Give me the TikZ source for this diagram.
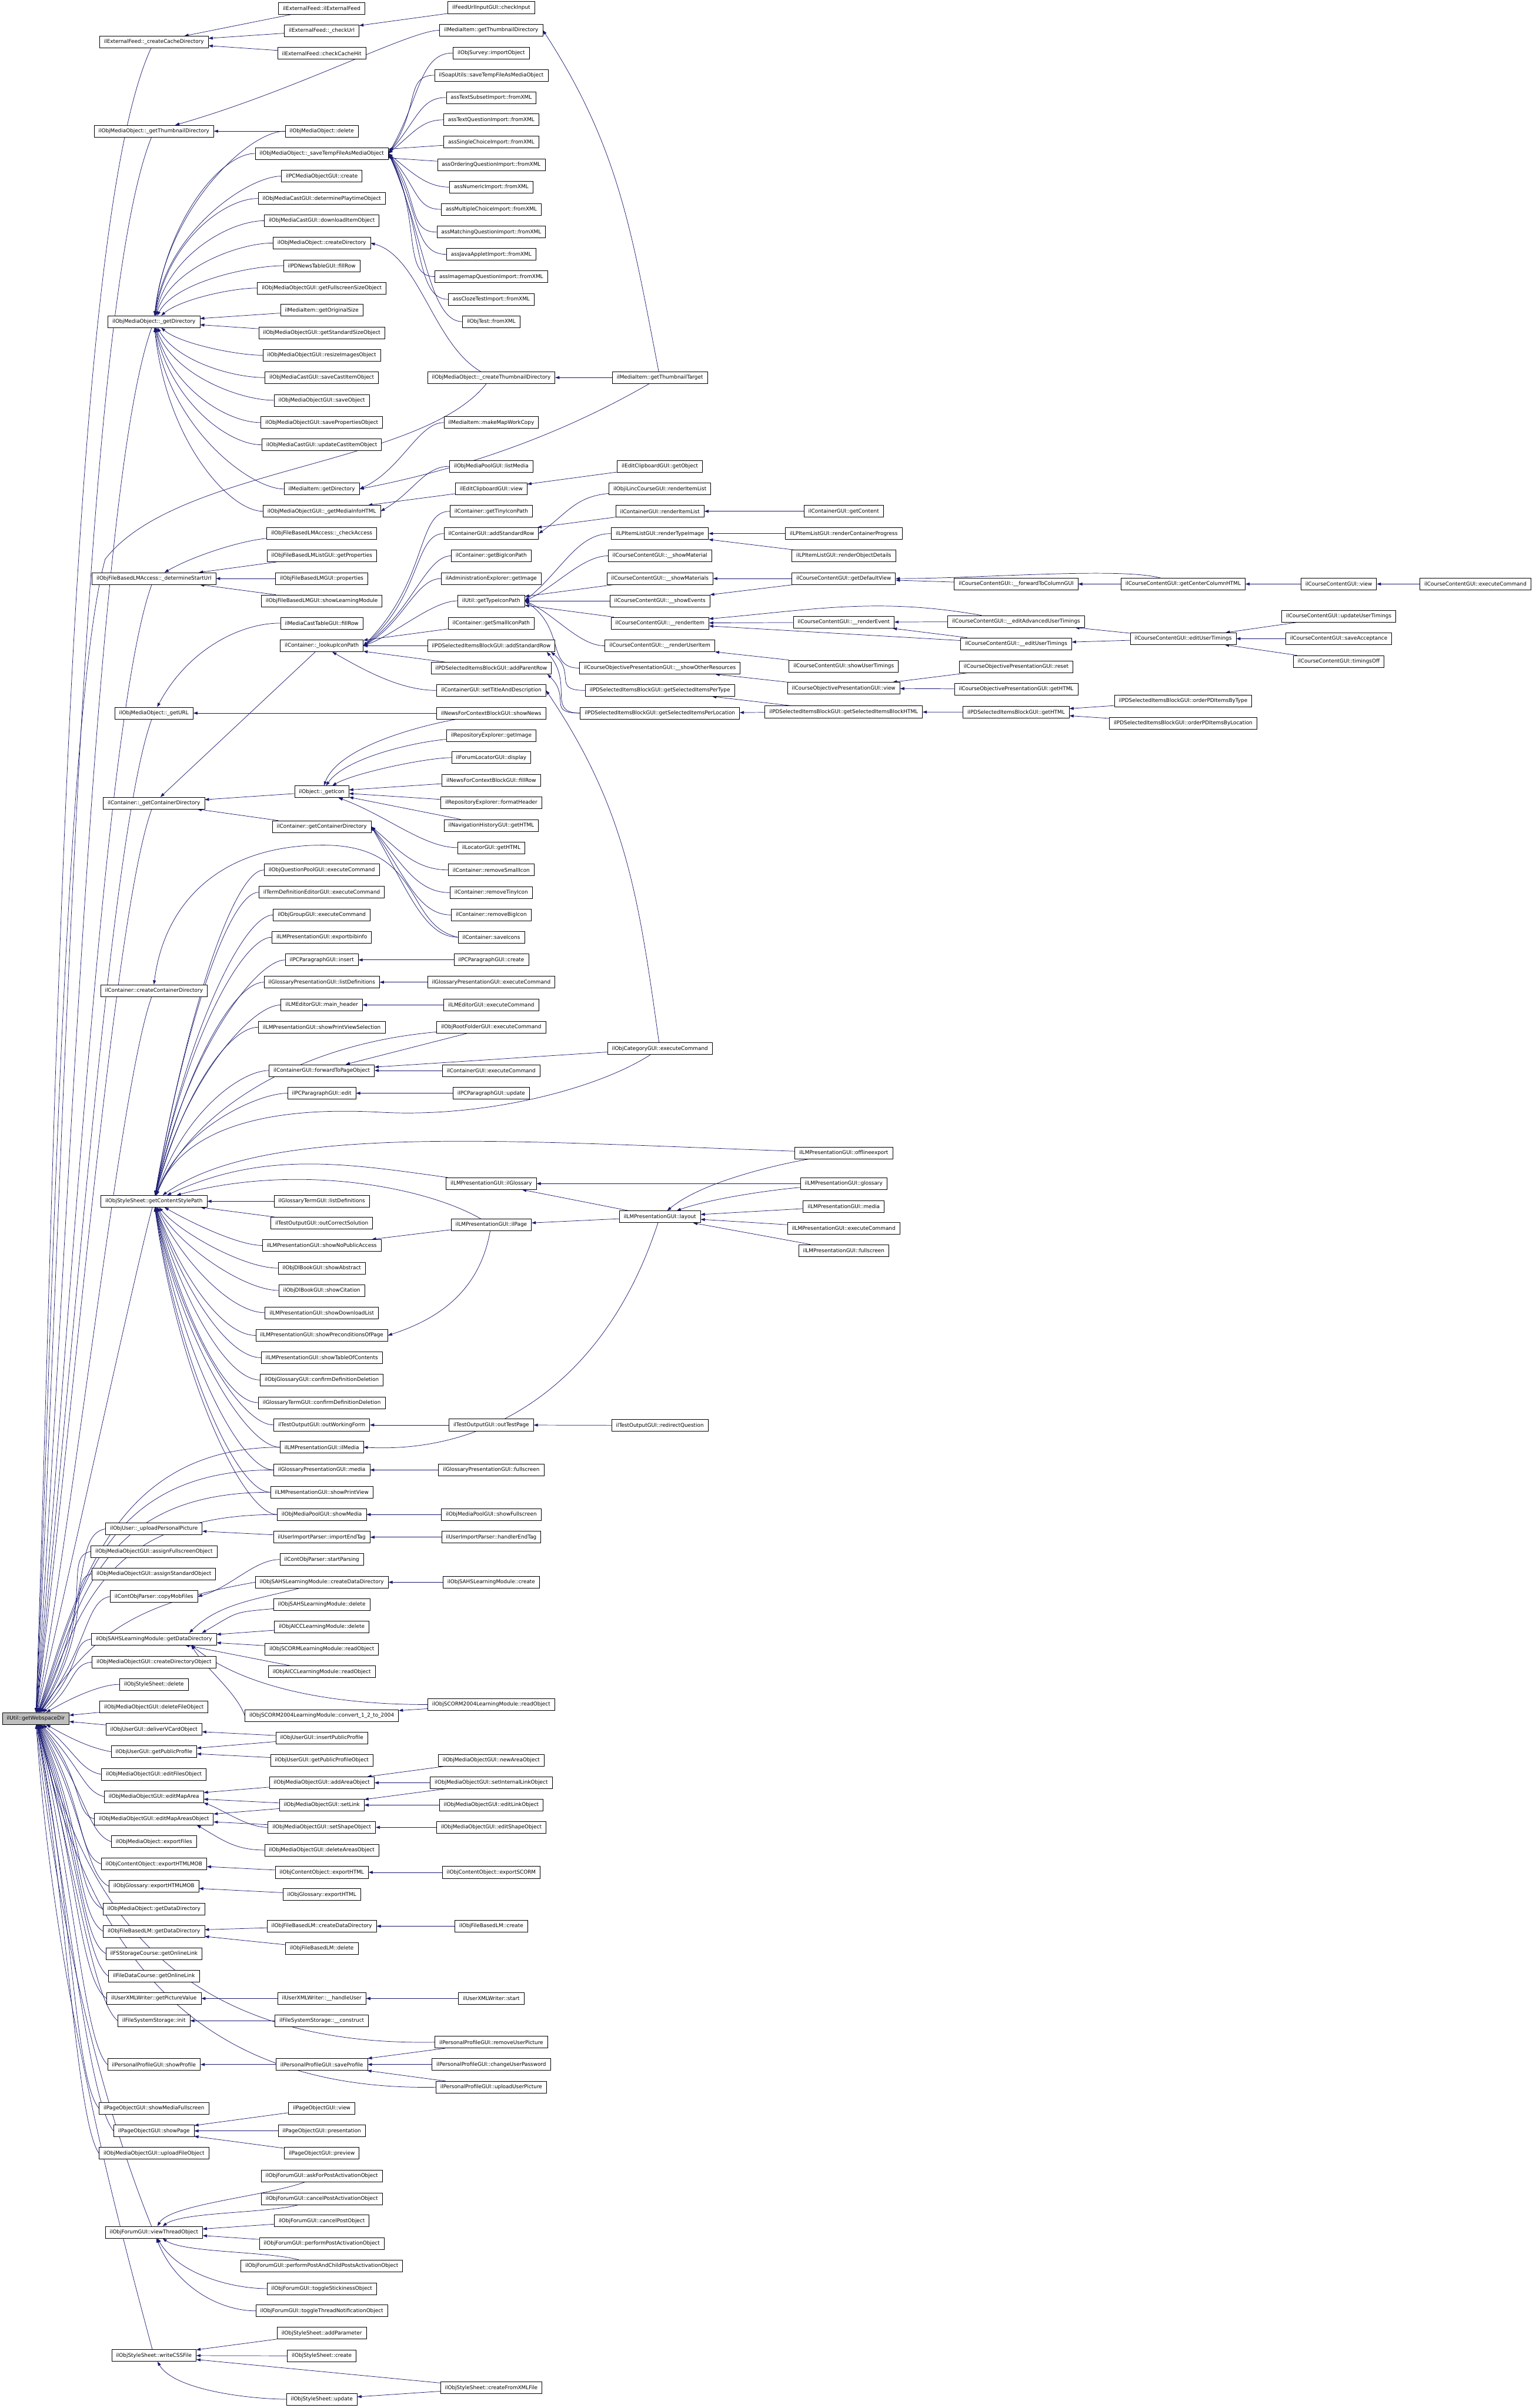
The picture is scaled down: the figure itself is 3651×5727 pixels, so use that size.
\documentclass[tikz,border=0pt]{standalone}
\usepackage{fontspec}
\newfontfamily\doxfont{DejaVu Sans}
\usetikzlibrary{arrows.meta,backgrounds}
\definecolor{edgeblue}{HTML}{191970}
\definecolor{rootgray}{HTML}{BFBFBF}
% one unit of the picture is one pixel of the original graph, drawn at 0.2pt
\tikzset{
    fn/.style={rectangle,draw=black,fill=white,line width=0.2pt,inner xsep=2.1pt,inner ysep=0pt,minimum height=5.6pt,font=\doxfont\fontsize{2.48}{3}\selectfont},
    root/.style={fn,fill=rootgray},
    call/.style={draw=edgeblue,line width=0.2pt,-{Triangle[length=2pt,width=1.4pt]}},
    spline/.code n args={4}{\pgfmathsetmacro\splo{#3*0.2}\pgfmathsetmacro\spli{#4*0.2}%
        \tikzset{out=#1,in=#2,out distance=\splo pt,in distance=\spli pt}}
}

\begin{document}
\begin{tikzpicture}[x=0.2pt,y=-0.2pt]
    \useasboundingbox (0,0) rectangle (3651,5727);
    % Nodes (rank 0)
    \node[root] (wsd) at (85,4087) {ilUtil::getWebspaceDir};
    % Nodes (rank 1)
    \node[fn] (ccd) at (366,100) {ilExternalFeed::\_createCacheDirectory};
    \node[fn] (gtd) at (366,312) {ilObjMediaObject::\_getThumbnailDirectory};
    \node[fn] (gdir) at (366,765) {ilObjMediaObject::\_getDirectory};
    \node[fn] (dsu) at (366,1376) {ilObjFileBasedLMAccess::\_determineStartUrl};
    \node[fn] (gurl) at (366,1696) {ilObjMediaObject::\_getURL};
    \node[fn] (gcd) at (366,1910) {ilContainer::\_getContainerDirectory};
    \node[fn] (ccdir) at (366,2356) {ilContainer::createContainerDirectory};
    \node[fn] (csp) at (366,2857) {ilObjStyleSheet::getContentStylePath};
    \node[fn] (upp) at (366,3636) {ilObjUser::\_uploadPersonalPicture};
    \node[fn] (afo) at (366,3690) {ilObjMediaObjectGUI::assignFullscreenObject};
    \node[fn] (aso) at (366,3743) {ilObjMediaObjectGUI::assignStandardObject};
    \node[fn] (cmf) at (366,3797) {ilContObjParser::copyMobFiles};
    \node[fn] (sahsdd) at (366,3898) {ilObjSAHSLearningModule::getDataDirectory};
    \node[fn] (cdo) at (366,3953) {ilObjMediaObjectGUI::createDirectoryObject};
    \node[fn] (ssdel) at (366,4006) {ilObjStyleSheet::delete};
    \node[fn] (dfo) at (366,4060) {ilObjMediaObjectGUI::deleteFileObject};
    \node[fn] (dvc) at (366,4113) {ilObjUserGUI::deliverVCardObject};
    \node[fn] (gpp) at (366,4166) {ilObjUserGUI::getPublicProfile};
    \node[fn] (efo) at (366,4220) {ilObjMediaObjectGUI::editFilesObject};
    \node[fn] (ema) at (366,4273) {ilObjMediaObjectGUI::editMapArea};
    \node[fn] (emao) at (366,4326) {ilObjMediaObjectGUI::editMapAreasObject};
    \node[fn] (exf) at (366,4380) {ilObjMediaObject::exportFiles};
    \node[fn] (cohm) at (366,4433) {ilObjContentObject::exportHTMLMOB};
    \node[fn] (glhm) at (366,4486) {ilObjGlossary::exportHTMLMOB};
    \node[fn] (modd) at (366,4540) {ilObjMediaObject::getDataDirectory};
    \node[fn] (flmdd) at (366,4593) {ilObjFileBasedLM::getDataDirectory};
    \node[fn] (fsol) at (366,4646) {ilFSStorageCourse::getOnlineLink};
    \node[fn] (fdol) at (366,4700) {ilFileDataCourse::getOnlineLink};
    \node[fn] (gpv) at (366,4753) {ilUserXMLWriter::getPictureValue};
    \node[fn] (fsi) at (366,4806) {ilFileSystemStorage::init};
    \node[fn] (shp) at (366,4910) {ilPersonalProfileGUI::showProfile};
    \node[fn] (smf) at (366,5014) {ilPageObjectGUI::showMediaFullscreen};
    \node[fn] (shpg) at (366,5068) {ilPageObjectGUI::showPage};
    \node[fn] (ufo) at (366,5121) {ilObjMediaObjectGUI::uploadFileObject};
    \node[fn] (vto) at (366,5309) {ilObjForumGUI::viewThreadObject};
    \node[fn] (wcss) at (366,5602) {ilObjStyleSheet::writeCSSFile};
    % Nodes (rank 2)
    \node[fn] (efi) at (765,20) {ilExternalFeed::ilExternalFeed};
    \node[fn] (ecu) at (765,73) {ilExternalFeed::\_checkUrl};
    \node[fn] (ech) at (765,127) {ilExternalFeed::checkCacheHit};
    \node[fn] (model) at (765,312) {ilObjMediaObject::delete};
    \node[fn] (stf) at (765,365) {ilObjMediaObject::\_saveTempFileAsMediaObject};
    \node[fn] (pcmc) at (765,419) {ilPCMediaObjectGUI::create};
    \node[fn] (dpo) at (765,472) {ilObjMediaCastGUI::determinePlaytimeObject};
    \node[fn] (dio) at (765,525) {ilObjMediaCastGUI::downloadItemObject};
    \node[fn] (mocd) at (765,578) {ilObjMediaObject::createDirectory};
    \node[fn] (pdnf) at (765,632) {ilPDNewsTableGUI::fillRow};
    \node[fn] (gfso) at (765,685) {ilObjMediaObjectGUI::getFullscreenSizeObject};
    \node[fn] (gos) at (765,738) {ilMediaItem::getOriginalSize};
    \node[fn] (gsso) at (765,792) {ilObjMediaObjectGUI::getStandardSizeObject};
    \node[fn] (rio) at (765,845) {ilObjMediaObjectGUI::resizeImagesObject};
    \node[fn] (scio) at (765,898) {ilObjMediaCastGUI::saveCastItemObject};
    \node[fn] (mosave) at (765,952) {ilObjMediaObjectGUI::saveObject};
    \node[fn] (spo) at (765,1005) {ilObjMediaObjectGUI::savePropertiesObject};
    \node[fn] (ucio) at (765,1058) {ilObjMediaCastGUI::updateCastItemObject};
    \node[fn] (migd) at (765,1163) {ilMediaItem::getDirectory};
    \node[fn] (gmih) at (765,1216) {ilObjMediaObjectGUI::\_getMediaInfoHTML};
    \node[fn] (chka) at (765,1269) {ilObjFileBasedLMAccess::\_checkAccess};
    \node[fn] (flgp) at (765,1322) {ilObjFileBasedLMListGUI::getProperties};
    \node[fn] (flprop) at (765,1376) {ilObjFileBasedLMGUI::properties};
    \node[fn] (fslm) at (765,1429) {ilObjFileBasedLMGUI::showLearningModule};
    \node[fn] (mctf) at (765,1482) {ilMediaCastTableGUI::fillRow};
    \node[fn] (lip) at (765,1536) {ilContainer::\_lookupIconPath};
    \node[fn] (geticon) at (765,1883) {ilObject::\_getIcon};
    \node[fn] (cgcd) at (765,1966) {ilContainer::getContainerDirectory};
    \node[fn] (qpec) at (765,2069) {ilObjQuestionPoolGUI::executeCommand};
    \node[fn] (tdec) at (765,2122) {ilTermDefinitionEditorGUI::executeCommand};
    \node[fn] (grec) at (765,2176) {ilObjGroupGUI::executeCommand};
    \node[fn] (ebi) at (765,2229) {ilLMPresentationGUI::exportbibinfo};
    \node[fn] (ppins) at (765,2283) {ilPCParagraphGUI::insert};
    \node[fn] (gpld) at (765,2336) {ilGlossaryPresentationGUI::listDefinitions};
    \node[fn] (lemh) at (765,2390) {ilLMEditorGUI::main\_header};
    \node[fn] (spvs) at (765,2443) {ilLMPresentationGUI::showPrintViewSelection};
    \node[fn] (ftpo) at (765,2546) {ilContainerGUI::forwardToPageObject};
    \node[fn] (ppedit) at (765,2600) {ilPCParagraphGUI::edit};
    \node[fn] (gtld) at (765,2857) {ilGlossaryTermGUI::listDefinitions};
    \node[fn] (occs) at (765,2909) {ilTestOutputGUI::outCorrectSolution};
    \node[fn] (snpa) at (765,2962) {ilLMPresentationGUI::showNoPublicAccess};
    \node[fn] (sabs) at (765,3016) {ilObjDlBookGUI::showAbstract};
    \node[fn] (scit) at (765,3069) {ilObjDlBookGUI::showCitation};
    \node[fn] (sdl) at (765,3122) {ilLMPresentationGUI::showDownloadList};
    \node[fn] (spop) at (765,3176) {ilLMPresentationGUI::showPreconditionsOfPage};
    \node[fn] (stoc) at (765,3229) {ilLMPresentationGUI::showTableOfContents};
    \node[fn] (ogcd) at (765,3282) {ilObjGlossaryGUI::confirmDefinitionDeletion};
    \node[fn] (gtcd) at (765,3336) {ilGlossaryTermGUI::confirmDefinitionDeletion};
    \node[fn] (owf) at (765,3389) {ilTestOutputGUI::outWorkingForm};
    \node[fn] (ilmedia) at (765,3442) {ilLMPresentationGUI::ilMedia};
    \node[fn] (gpmedia) at (765,3496) {ilGlossaryPresentationGUI::media};
    \node[fn] (spv) at (765,3549) {ilLMPresentationGUI::showPrintView};
    \node[fn] (mpsm) at (765,3602) {ilObjMediaPoolGUI::showMedia};
    \node[fn] (iet) at (765,3656) {ilUserImportParser::importEndTag};
    \node[fn] (cosp) at (765,3709) {ilContObjParser::startParsing};
    \node[fn] (sahscdd) at (765,3763) {ilObjSAHSLearningModule::createDataDirectory};
    \node[fn] (sahsdel) at (765,3816) {ilObjSAHSLearningModule::delete};
    \node[fn] (aiccdel) at (765,3869) {ilObjAICCLearningModule::delete};
    \node[fn] (scormro) at (765,3922) {ilObjSCORMLearningModule::readObject};
    \node[fn] (aiccro) at (765,3976) {ilObjAICCLearningModule::readObject};
    \node[fn] (conv) at (765,4080) {ilObjSCORM2004LearningModule::convert\_1\_2\_to\_2004};
    \node[fn] (ipp) at (765,4133) {ilObjUserGUI::insertPublicProfile};
    \node[fn] (gppo) at (765,4186) {ilObjUserGUI::getPublicProfileObject};
    \node[fn] (aao) at (765,4240) {ilObjMediaObjectGUI::addAreaObject};
    \node[fn] (slink) at (765,4293) {ilObjMediaObjectGUI::setLink};
    \node[fn] (sso) at (765,4346) {ilObjMediaObjectGUI::setShapeObject};
    \node[fn] (dao) at (765,4400) {ilObjMediaObjectGUI::deleteAreasObject};
    \node[fn] (coeh) at (765,4453) {ilObjContentObject::exportHTML};
    \node[fn] (gleh) at (765,4506) {ilObjGlossary::exportHTML};
    \node[fn] (flmcdd) at (765,4581) {ilObjFileBasedLM::createDataDirectory};
    \node[fn] (flmdel) at (765,4634) {ilObjFileBasedLM::delete};
    \node[fn] (xhu) at (765,4753) {ilUserXMLWriter::\_\_handleUser};
    \node[fn] (fscon) at (765,4806) {ilFileSystemStorage::\_\_construct};
    \node[fn] (svp) at (765,4910) {ilPersonalProfileGUI::saveProfile};
    \node[fn] (pov) at (765,5014) {ilPageObjectGUI::view};
    \node[fn] (popr) at (765,5068) {ilPageObjectGUI::presentation};
    \node[fn] (popv) at (765,5121) {ilPageObjectGUI::preview};
    \node[fn] (fapa) at (765,5175) {ilObjForumGUI::askForPostActivationObject};
    \node[fn] (fcpa) at (765,5229) {ilObjForumGUI::cancelPostActivationObject};
    \node[fn] (fcp) at (765,5282) {ilObjForumGUI::cancelPostObject};
    \node[fn] (fppa) at (765,5336) {ilObjForumGUI::performPostActivationObject};
    \node[fn] (fppc) at (765,5389) {ilObjForumGUI::performPostAndChildPostsActivationObject};
    \node[fn] (fts) at (765,5443) {ilObjForumGUI::toggleStickinessObject};
    \node[fn] (ftn) at (765,5496) {ilObjForumGUI::toggleThreadNotificationObject};
    \node[fn] (ssap) at (765,5549) {ilObjStyleSheet::addParameter};
    \node[fn] (sscr) at (765,5603) {ilObjStyleSheet::create};
    \node[fn] (ssup) at (765,5706) {ilObjStyleSheet::update};
    % Nodes (rank 3)
    \node[fn] (fuci) at (1168,18) {ilFeedUrlInputGUI::checkInput};
    \node[fn] (mitd) at (1168,72) {ilMediaItem::getThumbnailDirectory};
    \node[fn] (svio) at (1168,126) {ilObjSurvey::importObject};
    \node[fn] (soap) at (1168,179) {ilSoapUtils::saveTempFileAsMediaObject};
    \node[fn] (atsi) at (1168,232) {assTextSubsetImport::fromXML};
    \node[fn] (atqi) at (1168,285) {assTextQuestionImport::fromXML};
    \node[fn] (asci) at (1168,338) {assSingleChoiceImport::fromXML};
    \node[fn] (aoqi) at (1168,392) {assOrderingQuestionImport::fromXML};
    \node[fn] (anui) at (1168,445) {assNumericImport::fromXML};
    \node[fn] (amci) at (1168,498) {assMultipleChoiceImport::fromXML};
    \node[fn] (amqi) at (1168,552) {assMatchingQuestionImport::fromXML};
    \node[fn] (ajai) at (1168,605) {assJavaAppletImport::fromXML};
    \node[fn] (aimi) at (1168,658) {assImagemapQuestionImport::fromXML};
    \node[fn] (acti) at (1168,712) {assClozeTestImport::fromXML};
    \node[fn] (otfx) at (1168,765) {ilObjTest::fromXML};
    \node[fn] (ctd) at (1168,898) {ilObjMediaObject::\_createThumbnailDirectory};
    \node[fn] (mmwc) at (1168,1005) {ilMediaItem::makeMapWorkCopy};
    \node[fn] (mplm) at (1168,1109) {ilObjMediaPoolGUI::listMedia};
    \node[fn] (ecv) at (1168,1163) {ilEditClipboardGUI::view};
    \node[fn] (gtip) at (1168,1216) {ilContainer::getTinyIconPath};
    \node[fn] (casr) at (1168,1269) {ilContainerGUI::addStandardRow};
    \node[fn] (gbip) at (1168,1322) {ilContainer::getBigIconPath};
    \node[fn] (aegi) at (1168,1376) {ilAdministrationExplorer::getImage};
    \node[fn] (gtyp) at (1168,1429) {ilUtil::getTypeIconPath};
    \node[fn] (gsip) at (1168,1482) {ilContainer::getSmallIconPath};
    \node[fn] (pdsr) at (1168,1536) {ilPDSelectedItemsBlockGUI::addStandardRow};
    \node[fn] (pdpr) at (1168,1589) {ilPDSelectedItemsBlockGUI::addParentRow};
    \node[fn] (ctad) at (1168,1642) {ilContainerGUI::setTitleAndDescription};
    \node[fn] (nfsn) at (1168,1696) {ilNewsForContextBlockGUI::showNews};
    \node[fn] (regi) at (1168,1749) {ilRepositoryExplorer::getImage};
    \node[fn] (fldp) at (1168,1802) {ilForumLocatorGUI::display};
    \node[fn] (nffr) at (1168,1856) {ilNewsForContextBlockGUI::fillRow};
    \node[fn] (refh) at (1168,1909) {ilRepositoryExplorer::formatHeader};
    \node[fn] (nhgh) at (1168,1963) {ilNavigationHistoryGUI::getHTML};
    \node[fn] (lcgh) at (1168,2016) {ilLocatorGUI::getHTML};
    \node[fn] (rsi) at (1168,2069) {ilContainer::removeSmallIcon};
    \node[fn] (rti) at (1168,2123) {ilContainer::removeTinyIcon};
    \node[fn] (rbi) at (1168,2176) {ilContainer::removeBigIcon};
    \node[fn] (svi) at (1168,2229) {ilContainer::saveIcons};
    \node[fn] (ppcr) at (1168,2283) {ilPCParagraphGUI::create};
    \node[fn] (gpec) at (1168,2336) {ilGlossaryPresentationGUI::executeCommand};
    \node[fn] (leec) at (1168,2390) {ilLMEditorGUI::executeCommand};
    \node[fn] (rfec) at (1168,2443) {ilObjRootFolderGUI::executeCommand};
    \node[fn] (cgec) at (1168,2546) {ilContainerGUI::executeCommand};
    \node[fn] (ppup) at (1168,2600) {ilPCParagraphGUI::update};
    \node[fn] (ilglo) at (1168,2815) {ilLMPresentationGUI::ilGlossary};
    \node[fn] (ilpage) at (1168,2913) {ilLMPresentationGUI::ilPage};
    \node[fn] (otp) at (1168,3389) {ilTestOutputGUI::outTestPage};
    \node[fn] (gpfs) at (1168,3496) {ilGlossaryPresentationGUI::fullscreen};
    \node[fn] (mpfs) at (1168,3602) {ilObjMediaPoolGUI::showFullscreen};
    \node[fn] (iphet) at (1168,3656) {ilUserImportParser::handlerEndTag};
    \node[fn] (sahscr) at (1168,3763) {ilObjSAHSLearningModule::create};
    \node[fn] (s04ro) at (1168,4054) {ilObjSCORM2004LearningModule::readObject};
    \node[fn] (nao) at (1168,4186) {ilObjMediaObjectGUI::newAreaObject};
    \node[fn] (silo) at (1168,4240) {ilObjMediaObjectGUI::setInternalLinkObject};
    \node[fn] (elo) at (1168,4293) {ilObjMediaObjectGUI::editLinkObject};
    \node[fn] (eso) at (1168,4346) {ilObjMediaObjectGUI::editShapeObject};
    \node[fn] (coes) at (1168,4453) {ilObjContentObject::exportSCORM};
    \node[fn] (flmcr) at (1168,4581) {ilObjFileBasedLM::create};
    \node[fn] (xst) at (1168,4753) {ilUserXMLWriter::start};
    \node[fn] (rup) at (1168,4857) {ilPersonalProfileGUI::removeUserPicture};
    \node[fn] (cup) at (1168,4910) {ilPersonalProfileGUI::changeUserPassword};
    \node[fn] (uup) at (1168,4964) {ilPersonalProfileGUI::uploadUserPicture};
    \node[fn] (sscx) at (1168,5679) {ilObjStyleSheet::createFromXMLFile};
    % Nodes (rank 4)
    \node[fn] (mitt) at (1569,898) {ilMediaItem::getThumbnailTarget};
    \node[fn] (ecgo) at (1569,1109) {ilEditClipboardGUI::getObject};
    \node[fn] (ilri) at (1569,1163) {ilObjiLincCourseGUI::renderItemList};
    \node[fn] (cgri) at (1569,1216) {ilContainerGUI::renderItemList};
    \node[fn] (lprt) at (1569,1269) {ilLPItemListGUI::renderTypeImage};
    \node[fn] (smat) at (1569,1322) {ilCourseContentGUI::\_\_showMaterial};
    \node[fn] (smats) at (1569,1376) {ilCourseContentGUI::\_\_showMaterials};
    \node[fn] (sev) at (1569,1429) {ilCourseContentGUI::\_\_showEvents};
    \node[fn] (rit) at (1569,1482) {ilCourseContentGUI::\_\_renderItem};
    \node[fn] (rui) at (1569,1536) {ilCourseContentGUI::\_\_renderUserItem};
    \node[fn] (sor) at (1569,1589) {ilCourseObjectivePresentationGUI::\_\_showOtherResources};
    \node[fn] (gsipt) at (1569,1642) {ilPDSelectedItemsBlockGUI::getSelectedItemsPerType};
    \node[fn] (gsipl) at (1569,1696) {ilPDSelectedItemsBlockGUI::getSelectedItemsPerLocation};
    \node[fn] (catec) at (1569,2494) {ilObjCategoryGUI::executeCommand};
    \node[fn] (layout) at (1569,2894) {ilLMPresentationGUI::layout};
    \node[fn] (rdq) at (1569,3390) {ilTestOutputGUI::redirectQuestion};
    % Nodes (rank 5)
    \node[fn] (cggc) at (2006,1216) {ilContainerGUI::getContent};
    \node[fn] (lprcp) at (2006,1269) {ilLPItemListGUI::renderContainerProgress};
    \node[fn] (lprod) at (2006,1322) {ilLPItemListGUI::renderObjectDetails};
    \node[fn] (gdv) at (2006,1376) {ilCourseContentGUI::getDefaultView};
    \node[fn] (rev) at (2006,1480) {ilCourseContentGUI::\_\_renderEvent};
    \node[fn] (sut) at (2006,1584) {ilCourseContentGUI::showUserTimings};
    \node[fn] (copv) at (2006,1637) {ilCourseObjectivePresentationGUI::view};
    \node[fn] (gsbh) at (2006,1693) {ilPDSelectedItemsBlockGUI::getSelectedItemsBlockHTML};
    \node[fn] (lpoe) at (2006,2742) {ilLMPresentationGUI::offlineexport};
    \node[fn] (lpgl) at (2006,2815) {ilLMPresentationGUI::glossary};
    \node[fn] (lpme) at (2006,2869) {ilLMPresentationGUI::media};
    \node[fn] (lpec) at (2006,2921) {ilLMPresentationGUI::executeCommand};
    \node[fn] (lpfs) at (2006,2974) {ilLMPresentationGUI::fullscreen};
    % Nodes (rank 6 to 9)
    \node[fn] (ftc) at (2416,1389) {ilCourseContentGUI::\_\_forwardToColumnGUI};
    \node[fn] (eaut) at (2416,1478) {ilCourseContentGUI::\_\_editAdvancedUserTimings};
    \node[fn] (eut) at (2416,1531) {ilCourseContentGUI::\_\_editUserTimings};
    \node[fn] (copr) at (2416,1586) {ilCourseObjectivePresentationGUI::reset};
    \node[fn] (copg) at (2416,1639) {ilCourseObjectivePresentationGUI::getHTML};
    \node[fn] (pdgh) at (2416,1694) {ilPDSelectedItemsBlockGUI::getHTML};
    \node[fn] (gcch) at (2813,1389) {ilCourseContentGUI::getCenterColumnHTML};
    \node[fn] (ceut) at (2813,1519) {ilCourseContentGUI::editUserTimings};
    \node[fn] (opbt) at (2813,1667) {ilPDSelectedItemsBlockGUI::orderPDItemsByType};
    \node[fn] (opbl) at (2813,1720) {ilPDSelectedItemsBlockGUI::orderPDItemsByLocation};
    \node[fn] (ccv) at (3183,1389) {ilCourseContentGUI::view};
    \node[fn] (uut) at (3183,1466) {ilCourseContentGUI::updateUserTimings};
    \node[fn] (sacc) at (3183,1519) {ilCourseContentGUI::saveAcceptance};
    \node[fn] (toff) at (3183,1573) {ilCourseContentGUI::timingsOff};
    \node[fn] (ccec) at (3508,1389) {ilCourseContentGUI::executeCommand};

    \begin{scope}[on background layer]
    \fill[white] (0,0) rectangle (3651,5727);
    % Arrows into getWebspaceDir (from above)
    \draw[call] (ccd) to[spline={-115}{88}{480}{1400}] (wsd);
    \draw[call] (gtd) to[spline={-112}{87}{450}{1300}] (wsd);
    \draw[call] (ctd) .. controls (1000,1110) and (420,1110) .. (250,1330) .. controls (150,1700) and (120,3300) .. (wsd);
    \draw[call] (gdir) to[spline={-110}{86}{400}{1150}] (wsd);
    \draw[call] (dsu) to[spline={-110}{85}{330}{950}] (wsd);
    \draw[call] (gurl) to[spline={-110}{84}{290}{840}] (wsd);
    \draw[call] (gcd) to[spline={-110}{83}{260}{760}] (wsd);
    \draw[call] (ccdir) to[spline={-110}{80}{210}{600}] (wsd);
    \draw[call] (csp) to[spline={-105}{77}{150}{430}] (wsd);
    \draw[call] (ilmedia.west) to[spline={180}{72}{400}{300}] (wsd);
    \draw[call] (gpmedia.west) to[spline={180}{70}{420}{280}] (wsd);
    \draw[call] (spv.west) to[spline={180}{68}{420}{260}] (wsd);
    \draw[call] (mpsm.west) to[spline={180}{66}{430}{240}] (wsd);
    \draw[call] (upp.west) to[spline={190}{64}{80}{300}] (wsd);
    \draw[call] (afo.west) to[spline={190}{60}{70}{280}] (wsd);
    \draw[call] (aso.west) to[spline={190}{58}{60}{250}] (wsd);
    \draw[call] (sahscdd.west) to[spline={190}{56}{300}{220}] (wsd);
    \draw[call] (cmf.west) to[spline={190}{54}{60}{200}] (wsd);
    \draw[call] (sahsdd.west) to[spline={190}{48}{50}{150}] (wsd);
    \draw[call] (cdo.west) to[spline={185}{40}{50}{100}] (wsd);
    \draw[call] (ssdel.west) to[spline={180}{30}{40}{80}] (wsd);
    \draw[call] (dfo) -- (wsd);
    % Arrows into getWebspaceDir (from below)
    \draw[call] (dvc) -- (wsd);
    \draw[call] (gpp.west) to[spline={170}{-30}{40}{80}] (wsd);
    \draw[call] (efo.west) to[spline={170}{-40}{50}{100}] (wsd);
    \draw[call] (ema.west) to[spline={165}{-48}{50}{150}] (wsd);
    \draw[call] (emao.west) to[spline={165}{-52}{50}{170}] (wsd);
    \draw[call] (exf.west) to[spline={160}{-56}{60}{200}] (wsd);
    \draw[call] (cohm.west) to[spline={160}{-60}{60}{220}] (wsd);
    \draw[call] (glhm.west) to[spline={155}{-63}{60}{240}] (wsd);
    \draw[call] (modd.west) to[spline={155}{-66}{70}{260}] (wsd);
    \draw[call] (flmdd.west) to[spline={150}{-68}{70}{280}] (wsd);
    \draw[call] (fsol.west) to[spline={150}{-70}{70}{300}] (wsd);
    \draw[call] (fdol.west) to[spline={145}{-72}{70}{320}] (wsd);
    \draw[call] (gpv.west) to[spline={145}{-74}{80}{340}] (wsd);
    \draw[call] (fsi.west) to[spline={140}{-75}{80}{360}] (wsd);
    \draw[call] (rup.west) to[spline={181}{-74}{700}{350}] (wsd);
    \draw[call] (shp.west) to[spline={135}{-77}{80}{400}] (wsd);
    \draw[call] (uup.west) to[spline={181}{-76}{700}{380}] (wsd);
    \draw[call] (smf.west) to[spline={130}{-79}{90}{440}] (wsd);
    \draw[call] (shpg.west) to[spline={130}{-80}{90}{460}] (wsd);
    \draw[call] (ufo.west) to[spline={125}{-81}{90}{480}] (wsd);
    \draw[call] (vto) to[spline={112}{-84}{300}{500}] (wsd);
    \draw[call] (wcss) to[spline={105}{-86}{400}{600}] (wsd);
    % Feed and thumbnail group
    \draw[call] (efi) -- (ccd);
    \draw[call] (ecu) -- (ccd);
    \draw[call] (ech) -- (ccd);
    \draw[call] (fuci) -- (ecu);
    \draw[call] (mitd) to[spline={180}{16}{70}{300}] (gtd);
    \draw[call] (model) -- (gtd);
    \draw[call] (mitt) -- (ctd);
    \draw[call] (mitt) to[out=101,in=-57] (mitd.east);
    \draw[call] (ctd) to[spline={150}{-15}{130}{120}] (mocd.east);
    \draw[call] (mitt) to[spline={-150}{11}{200}{300}] (migd.east);
    \draw[call] (mmwc) to[spline={180}{25}{60}{110}] (migd.east);
    \draw[call] (mplm) to[spline={180}{30}{60}{90}] (gmih.east);
    \draw[call] (ecv) -- (gmih);
    \draw[call] (ecgo) -- (ecv);
    % Arrows into _saveTempFileAsMediaObject
    \draw[call] (svio) to[spline={180}{60}{80}{150}] (stf.east);
    \draw[call] (soap) to[spline={180}{55}{70}{130}] (stf.east);
    \draw[call] (atsi) to[spline={180}{50}{60}{110}] (stf.east);
    \draw[call] (atqi) to[spline={180}{40}{50}{80}] (stf.east);
    \draw[call] (asci) -- (stf);
    \draw[call] (aoqi) -- (stf);
    \draw[call] (anui) to[spline={180}{-40}{50}{80}] (stf.east);
    \draw[call] (amci) to[spline={180}{-50}{60}{110}] (stf.east);
    \draw[call] (amqi) to[spline={180}{-55}{70}{130}] (stf.east);
    \draw[call] (ajai) to[spline={180}{-60}{80}{150}] (stf.east);
    \draw[call] (aimi) to[spline={180}{-62}{80}{170}] (stf.east);
    \draw[call] (acti) to[spline={180}{-64}{80}{190}] (stf.east);
    \draw[call] (otfx) to[spline={180}{-66}{80}{210}] (stf.east);
    % Arrows into _getDirectory
    \draw[call] (model) to[spline={180}{84}{90}{250}] (gdir);
    \draw[call] (stf) to[spline={180}{83}{80}{230}] (gdir);
    \draw[call] (pcmc) to[spline={180}{82}{80}{200}] (gdir);
    \draw[call] (dpo) to[spline={180}{80}{80}{180}] (gdir);
    \draw[call] (dio) to[spline={180}{77}{80}{150}] (gdir);
    \draw[call] (mocd) to[spline={180}{72}{80}{120}] (gdir);
    \draw[call] (pdnf) to[spline={180}{62}{80}{90}] (gdir);
    \draw[call] (gfso) to[spline={180}{40}{60}{60}] (gdir);
    \draw[call] (gos) -- (gdir);
    \draw[call] (gsso) -- (gdir);
    \draw[call] (rio) to[spline={180}{-40}{60}{60}] (gdir);
    \draw[call] (scio) to[spline={180}{-60}{80}{90}] (gdir);
    \draw[call] (mosave) to[spline={180}{-70}{80}{120}] (gdir);
    \draw[call] (spo) to[spline={180}{-75}{80}{150}] (gdir);
    \draw[call] (ucio) to[spline={180}{-78}{80}{180}] (gdir);
    \draw[call] (migd) to[spline={180}{-82}{80}{240}] (gdir);
    \draw[call] (gmih) to[spline={180}{-84}{80}{270}] (gdir);
    % Learning module access, URL
    \draw[call] (chka) to[spline={185}{30}{60}{80}] (dsu);
    \draw[call] (flgp) -- (dsu);
    \draw[call] (flprop) -- (dsu);
    \draw[call] (fslm) -- (dsu);
    \draw[call] (mctf) to[spline={180}{62}{100}{150}] (gurl);
    \draw[call] (nfsn) -- (gurl);
    % Arrows into _lookupIconPath
    \draw[call] (gtip) to[spline={180}{45}{80}{220}] (lip.east);
    \draw[call] (casr) to[spline={180}{40}{70}{180}] (lip.east);
    \draw[call] (gbip) to[spline={180}{35}{60}{140}] (lip.east);
    \draw[call] (aegi) to[spline={180}{30}{60}{110}] (lip.east);
    \draw[call] (gtyp) to[spline={180}{20}{60}{80}] (lip.east);
    \draw[call] (gsip) -- (lip);
    \draw[call] (pdsr) -- (lip);
    \draw[call] (pdpr) -- (lip);
    \draw[call] (ctad) to[spline={180}{-30}{80}{100}] (lip);
    % Container directory
    \draw[call] (lip) -- (gcd);
    \draw[call] (geticon) -- (gcd);
    \draw[call] (cgcd) -- (gcd);
    \draw[call] (nfsn) to[spline={190}{70}{80}{100}] (geticon);
    \draw[call] (regi) to[spline={185}{55}{80}{80}] (geticon);
    \draw[call] (fldp) to[spline={180}{30}{60}{60}] (geticon);
    \draw[call] (nffr) -- (geticon);
    \draw[call] (refh) -- (geticon);
    \draw[call] (nhgh) -- (geticon);
    \draw[call] (lcgh) to[spline={180}{-20}{80}{120}] (geticon);
    \draw[call] (rsi) to[spline={180}{-40}{80}{80}] (cgcd.east);
    \draw[call] (rti) to[spline={180}{-50}{80}{110}] (cgcd.east);
    \draw[call] (rbi) to[spline={180}{-55}{80}{140}] (cgcd.east);
    \draw[call] (svi) to[spline={180}{-60}{80}{170}] (cgcd.east);
    \draw[call] (svi.west) .. controls (960,2200) and (1010,2010) .. (768,2010) .. controls (520,2010) and (390,2150) .. (ccdir.north);
    % Commands and paragraphs
    \draw[call] (ppcr) -- (ppins);
    \draw[call] (gpec) -- (gpld);
    \draw[call] (leec) -- (lemh);
    \draw[call] (rfec) -- (ftpo);
    \draw[call] (cgec) -- (ftpo);
    \draw[call] (catec) -- (ftpo);
    \draw[call] (ppup) -- (ppedit);
    % Arrows into getContentStylePath
    \draw[call] (qpec) to[spline={180}{80}{70}{450}] (csp);
    \draw[call] (tdec) to[spline={180}{80}{70}{420}] (csp);
    \draw[call] (grec) to[spline={180}{79}{70}{400}] (csp);
    \draw[call] (ebi) to[spline={180}{79}{70}{370}] (csp);
    \draw[call] (ppins) to[spline={180}{78}{70}{340}] (csp);
    \draw[call] (gpld) to[spline={180}{77}{70}{310}] (csp);
    \draw[call] (lemh) to[spline={180}{76}{70}{280}] (csp);
    \draw[call] (spvs) to[spline={180}{75}{70}{250}] (csp);
    \draw[call] (ftpo) to[spline={180}{72}{70}{200}] (csp);
    \draw[call] (ppedit) to[spline={180}{70}{70}{170}] (csp);
    \draw[call] (rfec) to[spline={185}{68}{350}{200}] (csp);
    \draw[call] (catec) .. controls (1420,2590) and (1150,2660) .. (900,2645) .. controls (620,2630) and (430,2690) .. (csp);
    \draw[call] (lpoe) to[spline={178}{35}{700}{300}] (csp);
    \draw[call] (ilglo) to[spline={172}{25}{250}{250}] (csp);
    \draw[call] (ilpage) to[spline={150}{15}{150}{300}] (csp);
    \draw[call] (gtld) -- (csp);
    \draw[call] (occs) -- (csp);
    \draw[call] (snpa) to[spline={180}{-30}{60}{60}] (csp);
    \draw[call] (sabs) to[spline={180}{-50}{80}{80}] (csp);
    \draw[call] (scit) to[spline={180}{-60}{80}{110}] (csp);
    \draw[call] (sdl) to[spline={180}{-65}{80}{140}] (csp);
    \draw[call] (spop) to[spline={180}{-70}{80}{170}] (csp);
    \draw[call] (stoc) to[spline={180}{-72}{80}{200}] (csp);
    \draw[call] (ogcd) to[spline={180}{-74}{80}{230}] (csp);
    \draw[call] (gtcd) to[spline={180}{-76}{80}{260}] (csp);
    \draw[call] (owf) to[spline={180}{-78}{80}{290}] (csp);
    \draw[call] (ilmedia) to[spline={180}{-79}{80}{320}] (csp);
    \draw[call] (gpmedia) to[spline={180}{-80}{80}{350}] (csp);
    \draw[call] (spv) to[spline={180}{-81}{80}{380}] (csp);
    \draw[call] (mpsm) to[spline={180}{-82}{80}{410}] (csp);
    % LM presentation
    \draw[call] (lpgl) -- (ilglo);
    \draw[call] (layout) -- (ilglo);
    \draw[call] (layout) -- (ilpage);
    \draw[call] (ilpage) -- (snpa);
    \draw[call] (ilpage) to[spline={-100}{18}{150}{120}] (spop.east);
    \draw[call] (lpoe) to[spline={190}{40}{100}{100}] (layout);
    \draw[call] (lpgl) to[spline={185}{20}{80}{80}] (layout);
    \draw[call] (lpme) -- (layout);
    \draw[call] (lpec) -- (layout);
    \draw[call] (lpfs) -- (layout);
    \draw[call] (layout) to[spline={-108}{-3}{400}{300}] (ilmedia.east);
    \draw[call] (rdq) -- (otp);
    \draw[call] (otp) -- (owf);
    \draw[call] (gpfs) -- (gpmedia);
    \draw[call] (mpfs) -- (mpsm);
    \draw[call] (iphet) -- (iet);
    \draw[call] (iet) -- (upp);
    \draw[call] (cosp) to[spline={180}{15}{60}{80}] (cmf.east);
    % SAHS modules
    \draw[call] (sahscr) -- (sahscdd);
    \draw[call] (sahscdd) to[spline={195}{45}{100}{100}] ([xshift=-13pt]sahsdd.north east);
    \draw[call] (sahsdel) to[spline={185}{30}{100}{100}] ([xshift=-7pt]sahsdd.north east);
    \draw[call] (aiccdel) -- (sahsdd);
    \draw[call] (scormro) -- (sahsdd);
    \draw[call] (aiccro) -- (sahsdd);
    \draw[call] (s04ro) to[spline={180}{-40}{350}{80}] ([xshift=-12pt]sahsdd.south east);
    \draw[call] (conv.west) to[spline={110}{-60}{60}{60}] ([xshift=-12pt]sahsdd.south east);
    \draw[call] (s04ro) -- (conv);
    % User and media object GUI
    \draw[call] (ipp) -- (dvc);
    \draw[call] (ipp) -- (gpp);
    \draw[call] (gppo) -- (gpp);
    \draw[call] (aao) -- (ema);
    \draw[call] (slink) -- (ema);
    \draw[call] (sso) to[spline={180}{-20}{50}{50}] (ema.south east);
    \draw[call] (slink) -- (emao);
    \draw[call] (sso) -- (emao);
    \draw[call] (dao) to[spline={180}{-30}{70}{70}] ([xshift=-8pt]emao.south east);
    \draw[call] (nao) -- (aao);
    \draw[call] (silo) -- (aao);
    \draw[call] (silo) -- (slink);
    \draw[call] (elo) -- (slink);
    \draw[call] (eso) -- (sso);
    \draw[call] (coeh) -- (cohm);
    \draw[call] (coes) -- (coeh);
    \draw[call] (gleh) -- (glhm);
    \draw[call] (flmcdd) -- (flmdd);
    \draw[call] (flmdel) -- (flmdd);
    \draw[call] (flmcr) -- (flmcdd);
    \draw[call] (xhu) -- (gpv);
    \draw[call] (xst) -- (xhu);
    \draw[call] (fscon) -- (fsi);
    \draw[call] (rup) -- (svp);
    \draw[call] (cup) -- (svp);
    \draw[call] (uup) -- (svp);
    \draw[call] (svp) -- (shp);
    \draw[call] (pov) -- (shpg);
    \draw[call] (popr) -- (shpg);
    \draw[call] (popv) -- (shpg);
    % Forum and style sheet
    \draw[call] (fapa) to[spline={200}{60}{100}{60}] (vto);
    \draw[call] (fcpa) to[spline={195}{35}{80}{60}] (vto);
    \draw[call] (fcp) -- (vto);
    \draw[call] (fppa) -- (vto);
    \draw[call] (fppc) to[spline={165}{-35}{80}{60}] (vto);
    \draw[call] (fts) to[spline={180}{-60}{80}{100}] (vto);
    \draw[call] (ftn) to[spline={180}{-68}{80}{130}] (vto);
    \draw[call] (ssap) -- (wcss);
    \draw[call] (sscr) -- (wcss);
    \draw[call] (sscx) -- (wcss);
    \draw[call] (ssup) to[spline={180}{-60}{80}{80}] (wcss);
    \draw[call] (sscx) -- (ssup);
    % Item lists and icons
    \draw[call] (ilri) to[spline={185}{35}{80}{80}] (casr.east);
    \draw[call] (cgri) -- (casr);
    \draw[call] (cggc) -- (cgri);
    \draw[call] (lprcp) -- (lprt);
    \draw[call] (lprod) -- (lprt);
    \draw[call] (lprt) to[spline={180}{40}{80}{120}] (gtyp.east);
    \draw[call] (smat) to[spline={180}{25}{60}{80}] (gtyp.east);
    \draw[call] (smats) -- (gtyp);
    \draw[call] (sev) -- (gtyp);
    \draw[call] (rit) -- (gtyp);
    \draw[call] (rui) to[spline={180}{-25}{60}{80}] (gtyp.east);
    \draw[call] (sor) to[spline={180}{-35}{80}{120}] (gtyp.east);
    \draw[call] (gsipt) to[spline={180}{-40}{80}{80}] ([xshift=-2pt]pdsr.south east);
    \draw[call] (gsipl) to[spline={180}{-50}{80}{100}] ([xshift=-4pt]pdsr.south east);
    \draw[call] (gsipl) to[spline={180}{-45}{80}{80}] ([xshift=-2pt]pdpr.south east);
    \draw[call] (catec) to[out=98,in=-56] (ctad.east);
    % Course content
    \draw[call] (gdv) -- (smats);
    \draw[call] (gdv) -- (sev);
    \draw[call] (rev) -- (rit);
    \draw[call] (eaut) to[spline={170}{5}{250}{250}] (rit);
    \draw[call] (eut) -- (rit);
    \draw[call] (eaut) -- (rev);
    \draw[call] (eut) -- (rev);
    \draw[call] (sut) -- (rui);
    \draw[call] (copv) -- (sor);
    \draw[call] (gsbh) -- (gsipt);
    \draw[call] (gsbh) -- (gsipl);
    \draw[call] (gcch) to[spline={165}{0}{100}{200}] (gdv.east);
    \draw[call] (ftc) -- (gdv);
    \draw[call] (copr) -- (copv);
    \draw[call] (copg) -- (copv);
    \draw[call] (pdgh) -- (gsbh);
    \draw[call] (gcch) -- (ftc);
    \draw[call] (ccv) -- (gcch);
    \draw[call] (ccec) -- (ccv);
    \draw[call] (ceut) -- (eaut);
    \draw[call] (ceut) -- (eut);
    \draw[call] (uut) -- (ceut);
    \draw[call] (sacc) -- (ceut);
    \draw[call] (toff) -- (ceut);
    \draw[call] (opbt) -- (pdgh);
    \draw[call] (opbl) -- (pdgh);
    \end{scope}
\end{tikzpicture}
\end{document}
